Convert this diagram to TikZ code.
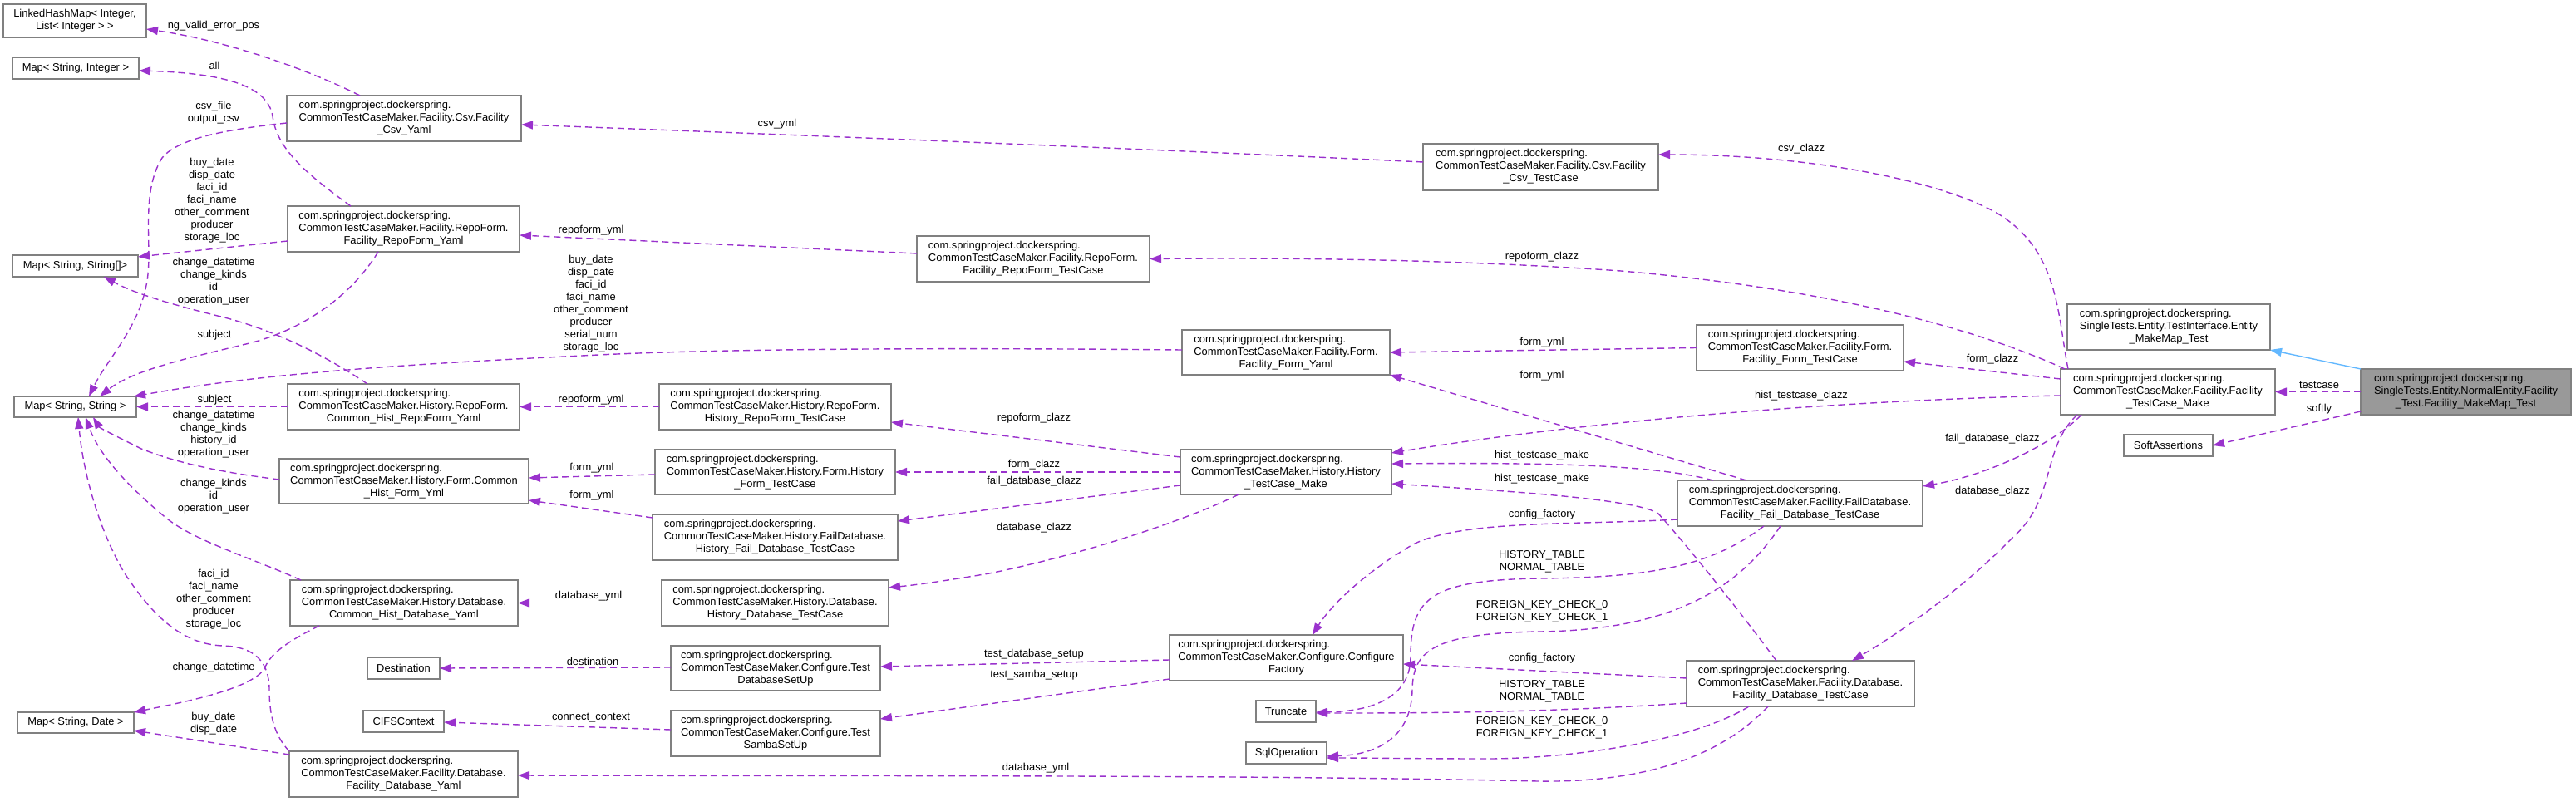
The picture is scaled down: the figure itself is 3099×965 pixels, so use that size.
\documentclass[tikz,border=0pt]{standalone}
\usepackage{fontspec}
\setmainfont{Liberation Sans}
\usetikzlibrary{arrows.meta}
\definecolor{edgec}{HTML}{9A32CD}
\definecolor{inhc}{HTML}{63B8FF}
\definecolor{boxc}{HTML}{808080}
\definecolor{mainc}{HTML}{999999}
\newcommand{\clthree}[3]{\begin{tabular}{@{}l@{}}#1\\#2\\\multicolumn{1}{@{}c@{}}{#3}\end{tabular}}
\newcommand{\cltwo}[2]{\begin{tabular}{@{}l@{}}#1\\\multicolumn{1}{@{}c@{}}{#2}\end{tabular}}
\newcommand{\pkgname}{com.springproject.dockerspring.}
\begin{document}
\begin{tikzpicture}[x=1pt,y=-1pt,
 every node/.style={font=\fontsize{12.9}{15}\selectfont},
 cls/.style={draw=boxc, line width=1.3pt, fill=white, inner sep=0pt, outer sep=0pt, anchor=center},
 dep/.style={draw=edgec, line width=1.4pt, dash pattern=on 8pt off 5pt, -{Triangle[length=14pt,width=10pt]}, fill=none},
 inh/.style={draw=inhc, line width=1.4pt, -{Triangle[length=14pt,width=10pt]}},
 lbl/.style={align=center, inner sep=0pt}]
\useasboundingbox (0,0) rectangle (3099,965);

% ---------- nodes ----------
\node[cls, minimum width=172pt, minimum height=40pt] (lhm) at (90,25) {\cltwo{LinkedHashMap< Integer,}{List< Integer > >}};
\node[cls, minimum width=152pt, minimum height=26pt] (msi) at (91,82) {Map< String, Integer >};
\node[cls, minimum width=151pt, minimum height=26pt] (mssa) at (90.5,320) {Map< String, String[]>};
\node[cls, minimum width=147pt, minimum height=25pt] (mss) at (90.5,489.5) {Map< String, String >};
\node[cls, minimum width=140pt, minimum height=25pt] (msd) at (91,869.5) {Map< String, Date >};

\node[cls, minimum width=282pt, minimum height=55pt] (csvyaml) at (486,142.5) {\clthree{\pkgname}{CommonTestCaseMaker.Facility.Csv.Facility}{\_Csv\_Yaml}};
\node[cls, minimum width=279pt, minimum height=55pt] (rfyaml) at (485.5,275.5) {\clthree{\pkgname}{CommonTestCaseMaker.Facility.RepoForm.}{Facility\_RepoForm\_Yaml}};
\node[cls, minimum width=279pt, minimum height=55pt] (hrfyaml) at (485.5,489.5) {\clthree{\pkgname}{CommonTestCaseMaker.History.RepoForm.}{Common\_Hist\_RepoForm\_Yaml}};
\node[cls, minimum width=300pt, minimum height=54pt] (hfyml) at (486,579) {\clthree{\pkgname}{CommonTestCaseMaker.History.Form.Common}{\_Hist\_Form\_Yml}};
\node[cls, minimum width=274pt, minimum height=55pt] (hdbyaml) at (486,725.5) {\clthree{\pkgname}{CommonTestCaseMaker.History.Database.}{Common\_Hist\_Database\_Yaml}};
\node[cls, minimum width=87pt, minimum height=26pt] (dest) at (485.5,804) {Destination};
\node[cls, minimum width=97pt, minimum height=26pt] (cifs) at (485.5,868) {CIFSContext};
\node[cls, minimum width=275pt, minimum height=55pt] (fdbyaml) at (485.5,931.5) {\clthree{\pkgname}{CommonTestCaseMaker.Facility.Database.}{Facility\_Database\_Yaml}};

\node[cls, minimum width=279pt, minimum height=55pt] (hrftc) at (932.5,489.5) {\clthree{\pkgname}{CommonTestCaseMaker.History.RepoForm.}{History\_RepoForm\_TestCase}};
\node[cls, minimum width=289pt, minimum height=54pt] (hftc) at (932.5,568) {\clthree{\pkgname}{CommonTestCaseMaker.History.Form.History}{\_Form\_TestCase}};
\node[cls, minimum width=295pt, minimum height=55pt] (hfdbtc) at (932.5,646.5) {\clthree{\pkgname}{CommonTestCaseMaker.History.FailDatabase.}{History\_Fail\_Database\_TestCase}};
\node[cls, minimum width=273pt, minimum height=55pt] (hdbtc) at (932.5,725.5) {\clthree{\pkgname}{CommonTestCaseMaker.History.Database.}{History\_Database\_TestCase}};
\node[cls, minimum width=252pt, minimum height=54pt] (tdbsu) at (933,804) {\clthree{\pkgname}{CommonTestCaseMaker.Configure.Test}{DatabaseSetUp}};
\node[cls, minimum width=252pt, minimum height=55pt] (tssu) at (933,882.5) {\clthree{\pkgname}{CommonTestCaseMaker.Configure.Test}{SambaSetUp}};

\node[cls, minimum width=280pt, minimum height=55pt] (frftc) at (1243,311.5) {\clthree{\pkgname}{CommonTestCaseMaker.Facility.RepoForm.}{Facility\_RepoForm\_TestCase}};

\node[cls, minimum width=250pt, minimum height=54pt] (ffyaml) at (1547,424) {\clthree{\pkgname}{CommonTestCaseMaker.Facility.Form.}{Facility\_Form\_Yaml}};
\node[cls, minimum width=254pt, minimum height=54pt] (htcm) at (1547,568) {\clthree{\pkgname}{CommonTestCaseMaker.History.History}{\_TestCase\_Make}};
\node[cls, minimum width=281pt, minimum height=55pt] (cf) at (1547.5,791.5) {\clthree{\pkgname}{CommonTestCaseMaker.Configure.Configure}{Factory}};
\node[cls, minimum width=72pt, minimum height=26pt] (trunc) at (1547,856) {Truncate};
\node[cls, minimum width=97pt, minimum height=26pt] (sqlop) at (1547.5,906) {SqlOperation};

\node[cls, minimum width=283pt, minimum height=56pt] (fcsvtc) at (1853.5,201) {\clthree{\pkgname}{CommonTestCaseMaker.Facility.Csv.Facility}{\_Csv\_TestCase}};

\node[cls, minimum width=249pt, minimum height=55pt] (fftc) at (2165.5,418.5) {\clthree{\pkgname}{CommonTestCaseMaker.Facility.Form.}{Facility\_Form\_TestCase}};
\node[cls, minimum width=295pt, minimum height=55pt] (ffdbtc) at (2165.5,605.5) {\clthree{\pkgname}{CommonTestCaseMaker.Facility.FailDatabase.}{Facility\_Fail\_Database\_TestCase}};
\node[cls, minimum width=274pt, minimum height=55pt] (fdbtc) at (2166,822.5) {\clthree{\pkgname}{CommonTestCaseMaker.Facility.Database.}{Facility\_Database\_TestCase}};

\node[cls, minimum width=244pt, minimum height=55pt] (emmt) at (2609,393.5) {\clthree{\pkgname}{SingleTests.Entity.TestInterface.Entity}{\_MakeMap\_Test}};
\node[cls, minimum width=258pt, minimum height=55pt] (ftcm) at (2608,471.5) {\clthree{\pkgname}{CommonTestCaseMaker.Facility.Facility}{\_TestCase\_Make}};
\node[cls, minimum width=107pt, minimum height=26pt] (soft) at (2608.5,536) {SoftAssertions};
\node[cls, fill=mainc, minimum width=253pt, minimum height=55pt] (main) at (2966.5,471.5) {\clthree{\pkgname}{SingleTests.Entity.NormalEntity.Facility}{\_Test.Facility\_MakeMap\_Test}};

% ---------- edges ----------
\draw[inh] (main.north west) -- (emmt.south east);
\draw[dep] (main.west) -- (ftcm.east);
\draw[dep] ([yshift=-23.5pt]main.west) -- (soft.east);
\draw[dep] ([xshift=-120pt]ftcm.north) .. controls (2475,380) and (2478,300) .. (2400,255) .. controls (2320,212) and (2160,186) .. ([yshift=15pt]fcsvtc.east);
\draw[dep] ([xshift=5pt]ftcm.north west) .. controls (2400,405) and (2230,350) .. (1950,326) .. controls (1750,312) and (1550,310) .. (frftc.east);
\draw[dep] ([yshift=15.5pt]ftcm.west) -- ([yshift=-16.5pt]fftc.east);
\draw[dep] ([yshift=-4.5pt]ftcm.west) .. controls (2200,482) and (1900,508) .. ([yshift=-4pt]htcm.north east);
\draw[dep] ([xshift=-104pt]ftcm.south) .. controls (2470,535) and (2390,572) .. ([yshift=20.5pt]ffdbtc.east);
\draw[dep] ([xshift=-109pt]ftcm.south) .. controls (2455,540) and (2475,600) .. (2420,648) .. controls (2360,710) and (2280,765) .. ([xshift=62pt]fdbtc.north);

\draw[dep] ([xshift=-64.5pt]ffdbtc.north) -- (ffyaml.south east);
\draw[dep] (fftc.west) -- (ffyaml.east);
\draw[dep] ([xshift=-104.5pt]ffdbtc.north) .. controls (2000,562) and (1900,556) .. ([yshift=10pt]htcm.east);
\draw[dep] ([xshift=-29pt]fdbtc.north) .. controls (2070,705) and (2015,640) .. (1995,618) .. controls (1970,600) and (1800,590) .. ([yshift=-14pt]htcm.east);
\draw[dep] ([yshift=-19.5pt]ffdbtc.west) .. controls (1900,632) and (1760,625) .. (1700,655) .. controls (1640,690) and (1600,730) .. ([xshift=31.5pt]cf.north);
\draw[dep] ([xshift=-43.5pt]ffdbtc.south) .. controls (2060,680) and (1990,695) .. (1852,696) .. controls (1720,698) and (1697,720) .. (1697,790) .. controls (1697,840) and (1650,856) .. ([yshift=-1pt]trunc.east);
\draw[dep] ([xshift=-23.5pt]ffdbtc.south) .. controls (2100,695) and (2030,758) .. (1852,760) .. controls (1720,762) and (1700,785) .. (1699,830) .. controls (1698,885) and (1660,908) .. ([yshift=-4pt]sqlop.east);
\draw[dep] ([yshift=6.5pt]fdbtc.west) -- ([yshift=-7.5pt]cf.east);
\draw[dep] ([yshift=-23.5pt]fdbtc.west) .. controls (1850,858) and (1700,858) .. ([yshift=-2pt]trunc.east);
\draw[dep] ([xshift=-62pt]fdbtc.south) .. controls (2040,890) and (1900,912) .. (1794,913) .. controls (1700,913) and (1650,912) .. ([yshift=-6pt]sqlop.east);
\draw[dep] ([xshift=-39pt]fdbtc.south) .. controls (2070,910) and (1980,942) .. (1850,940) .. controls (1500,932) and (1000,934) .. ([yshift=-1.5pt]fdbyaml.east);

\draw[dep] ([yshift=18pt]htcm.west) -- ([yshift=-18.5pt]hrftc.east);
\draw[dep] (htcm.west) -- (hftc.east);
\draw[dep] ([yshift=-16pt]htcm.west) -- ([yshift=19.5pt]hfdbtc.east);
\draw[dep] ([xshift=-57pt]htcm.south) .. controls (1430,625) and (1300,668) .. (1190,690) .. controls (1130,700) and (1100,704) .. ([yshift=18.5pt]hdbtc.east);
\draw[dep] ([yshift=-2.5pt]cf.west) -- ([yshift=2pt]tdbsu.east);
\draw[dep] ([yshift=-25.5pt]cf.west) -- ([yshift=17.5pt]tssu.east);

\draw[dep] (hrftc.west) -- (hrfyaml.east);
\draw[dep] ([yshift=-3pt]hftc.west) -- ([yshift=4pt]hfyml.east);
\draw[dep] ([yshift=23.5pt]hfdbtc.west) -- ([yshift=-23pt]hfyml.east);
\draw[dep] (hdbtc.west) -- (hdbyaml.east);
\draw[dep] ([yshift=1pt]tdbsu.west) -- (dest.east);
\draw[dep] ([yshift=4.5pt]tssu.west) -- ([yshift=-1pt]cifs.east);
\draw[dep] ([yshift=6.5pt]frftc.west) -- ([yshift=-7.5pt]rfyaml.east);
\draw[dep] ([yshift=6pt]fcsvtc.west) .. controls (1400,180) and (900,160) .. ([yshift=-7.5pt]csvyaml.east);
\draw[dep] ([yshift=3pt]ffyaml.west) .. controls (1100,418) and (850,420) .. (700,428) .. controls (450,440) and (300,452) .. ([xshift=-3pt]mss.north east);

\draw[dep] ([xshift=-53pt]csvyaml.north) .. controls (380,88) and (280,50) .. ([yshift=-10pt]lhm.east);
\draw[dep] ([xshift=-63.5pt]rfyaml.north) .. controls (370,210) and (333,180) .. (328,140) .. controls (322,100) and (260,88) .. ([yshift=-3pt]msi.east);
\draw[dep] ([yshift=-5.5pt]csvyaml.west) .. controls (280,155) and (215,165) .. (195,190) .. controls (170,230) and (182,290) .. (178,330) .. controls (172,390) and (130,430) .. ([xshift=16.5pt]mss.north);
\draw[dep] ([yshift=-14.5pt]rfyaml.west) -- ([yshift=11pt]mssa.east);
\draw[dep] ([xshift=-30.5pt]rfyaml.south) .. controls (420,360) and (360,398) .. (300,413) .. controls (230,430) and (160,445) .. ([xshift=29.5pt]mss.north);
\draw[dep] ([xshift=-43.5pt]hrfyaml.north) .. controls (380,420) and (320,395) .. (270,382) .. controls (200,365) and (160,352) .. ([xshift=34.5pt]mssa.south);
\draw[dep] (hrfyaml.west) -- (mss.east);
\draw[dep] ([yshift=2pt]hfyml.west) .. controls (280,570) and (220,560) .. (170,540) .. controls (140,525) and (120,515) .. ([xshift=21.5pt]mss.south);
\draw[dep] ([xshift=-124pt]hdbyaml.north) .. controls (300,670) and (230,650) .. (196,620) .. controls (160,590) and (120,550) .. ([xshift=12.5pt]mss.south);
\draw[dep] (fdbyaml.north west) .. controls (330,885) and (324,860) .. (324,830) .. controls (324,795) and (305,778) .. (268,777) .. controls (215,775) and (180,735) .. (150,690) .. controls (120,640) and (100,570) .. ([xshift=3.5pt]mss.south);
\draw[dep] ([xshift=-102pt]hdbyaml.south) .. controls (350,770) and (325,785) .. (318,805) .. controls (300,830) and (220,845) .. (msd.north east);
\draw[dep] ([yshift=23.5pt]fdbyaml.west) -- ([yshift=3pt]msd.south east);

% ---------- labels ----------
\node[lbl] (l2) at (2790,463) {testcase};
\node[lbl] (l3) at (2790,492) {softly};
\node[lbl] (l4) at (2167,179) {csv\_clazz};
\node[lbl] (l5) at (1855,309) {repoform\_clazz};
\node[lbl] (l6) at (2397,432) {form\_clazz};
\node[lbl] (l7) at (2167,476) {hist\_testcase\_clazz};
\node[lbl] (l8) at (2397,528) {fail\_database\_clazz};
\node[lbl] (l9) at (2397,591) {database\_clazz};
\node[lbl] (l10) at (1855,452) {form\_yml};
\node[lbl] (l11) at (1855,412) {form\_yml};
\node[lbl] (l12) at (1855,548) {hist\_testcase\_make};
\node[lbl] (l13) at (1855,576) {hist\_testcase\_make};
\node[lbl] (l14) at (1855,619) {config\_factory};
\node[lbl] (l15) at (1855,676) {HISTORY\_TABLE\\NORMAL\_TABLE};
\node[lbl] (l16) at (1855,736) {FOREIGN\_KEY\_CHECK\_0\\FOREIGN\_KEY\_CHECK\_1};
\node[lbl] (l17) at (1855,792) {config\_factory};
\node[lbl] (l18) at (1855,832) {HISTORY\_TABLE\\NORMAL\_TABLE};
\node[lbl] (l19) at (1855,876) {FOREIGN\_KEY\_CHECK\_0\\FOREIGN\_KEY\_CHECK\_1};
\node[lbl] (l20) at (1246,924) {database\_yml};
\node[lbl] (l21) at (1244,503) {repoform\_clazz};
\node[lbl] (l22) at (1244,559) {form\_clazz};
\node[lbl] (l23) at (1244,579) {fail\_database\_clazz};
\node[lbl] (l24) at (1244,635) {database\_clazz};
\node[lbl] (l25) at (1244,787) {test\_database\_setup};
\node[lbl] (l26) at (1244,812) {test\_samba\_setup};
\node[lbl] (l27) at (711,481) {repoform\_yml};
\node[lbl] (l28) at (712,563) {form\_yml};
\node[lbl] (l29) at (712,596) {form\_yml};
\node[lbl] (l30) at (708,717) {database\_yml};
\node[lbl] (l31) at (713,796) {destination};
\node[lbl] (l32) at (711,864) {connect\_context};
\node[lbl] (l33) at (711,277) {repoform\_yml};
\node[lbl] (l34) at (935,149) {csv\_yml};
\node[lbl] (l35) at (711,366) {buy\_date\\disp\_date\\faci\_id\\faci\_name\\other\_comment\\producer\\serial\_num\\storage\_loc};
\node[lbl] (l36) at (257,31) {ng\_valid\_error\_pos};
\node[lbl] (l37) at (258,79) {all};
\node[lbl] (l38) at (257,136) {csv\_file\\output\_csv};
\node[lbl] (l39) at (255,241) {buy\_date\\disp\_date\\faci\_id\\faci\_name\\other\_comment\\producer\\storage\_loc};
\node[lbl] (l40) at (258,403) {subject};
\node[lbl] (l41) at (257,339) {change\_datetime\\change\_kinds\\id\\operation\_user};
\node[lbl] (l42) at (258,481) {subject};
\node[lbl] (l43) at (257,523) {change\_datetime\\change\_kinds\\history\_id\\operation\_user};
\node[lbl] (l44) at (257,597) {change\_kinds\\id\\operation\_user};
\node[lbl] (l45) at (257,721) {faci\_id\\faci\_name\\other\_comment\\producer\\storage\_loc};
\node[lbl] (l46) at (257,803) {change\_datetime};
\node[lbl] (l47) at (257,871) {buy\_date\\disp\_date};
\end{tikzpicture}
\end{document}
